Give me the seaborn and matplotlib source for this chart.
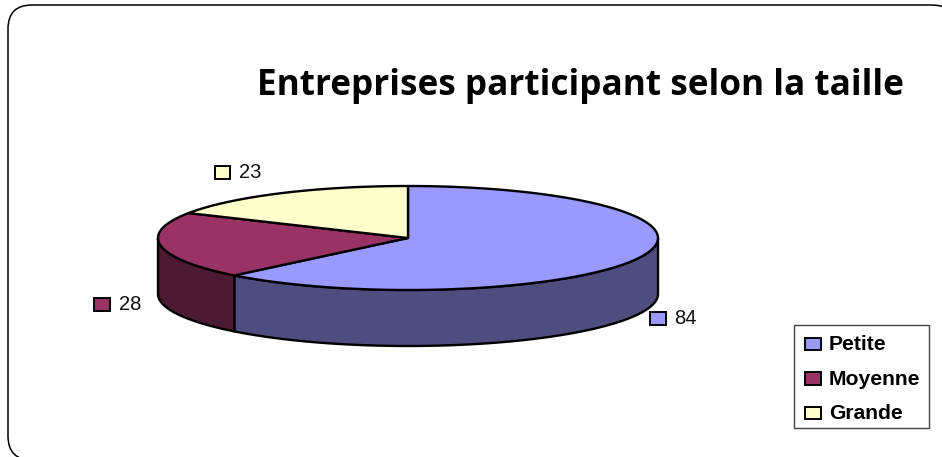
import numpy as np
import pandas as pd
import seaborn as sns
import matplotlib
matplotlib.use("Agg")
import matplotlib.pyplot as plt
from matplotlib.patches import Polygon, FancyBboxPatch, Rectangle

categories = ["Petite", "Moyenne", "Grande"]
counts = [84, 28, 23]
top_colors = ["#9999FF", "#993366", "#FFFFCC"]
side_colors = ["#4D4D80", "#4D1A33", "#808066"]
title_text = "Entreprises participant selon la taille"

sns.set_theme(style="white")
plt.rcParams["font.family"] = ["Liberation Sans", "DejaVu Sans"]

frame = pd.DataFrame({"taille": categories, "n": counts, "top": top_colors, "side": side_colors})
frame["share"] = frame["n"] / frame["n"].sum() * 2 * np.pi

W, H = 942, 457
fig = plt.figure(figsize=(W / 100, H / 100), dpi=100, facecolor="white")
ax = fig.add_axes([0, 0, 1, 1])
ax.set_xlim(0, W)
ax.set_ylim(H, 0)
ax.axis("off")

# Chart area border with rounded corners, running past the right and bottom edges
ax.add_patch(FancyBboxPatch((8, 5), 948, 455, boxstyle="round,pad=0,rounding_size=24",
                            fc="white", ec="black", lw=1.1, zorder=0.5))

cx, cy, rx, ry, depth = 408, 238, 250, 52, 56


def rim(a0, a1, n=160):
    t = np.linspace(a0, a1, n)
    return cx + rx * np.sin(t), cy - ry * np.cos(t)


starts = np.concatenate([[0], np.cumsum(frame["share"].values)[:-1]])

# Side walls: only the front half of the disc is visible
for start, share, side in zip(starts, frame["share"], frame["side"]):
    a0, a1 = max(start, np.pi / 2), min(start + share, 3 * np.pi / 2)
    if a1 <= a0:
        continue
    x, y = rim(a0, a1)
    pts = np.r_[np.c_[x, y], np.c_[x[::-1], y[::-1] + depth]]
    ax.add_patch(Polygon(pts, closed=True, fc=side, ec="black", lw=1.7, joinstyle="round", zorder=2))

# Top faces of the slices
for start, share, top in zip(starts, frame["share"], frame["top"]):
    x, y = rim(start, start + share)
    pts = np.r_[[[cx, cy]], np.c_[x, y]]
    ax.add_patch(Polygon(pts, closed=True, fc=top, ec="black", lw=1.7, joinstyle="round", zorder=3))

# Value labels with their colour keys
key_positions = [(650, 312), (94, 298), (214.5, 166)]
for (kx, ky), n, top in zip(key_positions, frame["n"], frame["top"]):
    ax.add_patch(Rectangle((kx, ky), 15.5, 12.5, fc=top, ec="black", lw=1.4, zorder=4))
    ax.text(kx + 24.5, ky + 4.5, str(n), fontsize=14.5, color="#111111", va="center_baseline", ha="left")

ax.text(257, 86, title_text, fontsize=25.3, fontweight="bold", family="Open Sans",
        color="black", va="center", ha="left")

# Legend box
ax.add_patch(Rectangle((794, 324.5), 135, 103.5, fc="white", ec="#444444", lw=1.0, zorder=4))
for i, (name, top) in enumerate(zip(frame["taille"], frame["top"])):
    y = 343.5 + i * 34.5
    ax.add_patch(Rectangle((804.5, y - 6), 16, 12.5, fc=top, ec="black", lw=1.4, zorder=5))
    ax.text(829, y - 0.7, name, fontsize=15.2, fontweight="bold", color="black",
            va="center_baseline", ha="left", zorder=5)

fig.savefig("out.png", dpi=100)
